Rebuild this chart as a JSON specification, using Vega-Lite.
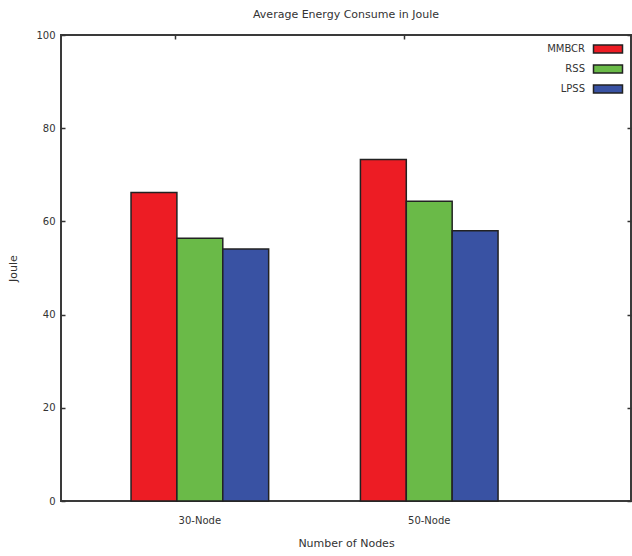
{
  "$schema": "https://vega.github.io/schema/vega-lite/v6.json",
  "width": 570,
  "height": 466,
  "autosize": "none",
  "padding": {"left": 61, "top": 35, "right": 1, "bottom": 55},
  "background": "white",
  "title": {"text": "Average Energy Consume in Joule", "fontSize": 11, "font": "DejaVu Sans", "fontWeight": "normal", "color": "#333", "anchor": "middle", "offset": 10},
  "config": {
    "view": {"stroke": "#3a3a3a", "strokeWidth": 2},
    "font": "DejaVu Sans",
    "axis": {"labelFont": "DejaVu Sans", "titleFont": "DejaVu Sans", "labelFontSize": 10, "titleFontSize": 11, "titleFontWeight": "normal", "labelColor": "#333", "titleColor": "#333", "domain": false, "grid": false, "tickColor": "#333", "tickWidth": 1.5}
  },
  "data": {"values": [
    {"nodes": "30-Node", "protocol": "MMBCR", "joule": 66.2},
    {"nodes": "30-Node", "protocol": "RSS", "joule": 56.4},
    {"nodes": "30-Node", "protocol": "LPSS", "joule": 54.1},
    {"nodes": "50-Node", "protocol": "MMBCR", "joule": 73.3},
    {"nodes": "50-Node", "protocol": "RSS", "joule": 64.3},
    {"nodes": "50-Node", "protocol": "LPSS", "joule": 58.0}
  ]},
  "layer": [
    {
      "mark": {"type": "bar", "stroke": "#222", "strokeWidth": 1.5},
      "encoding": {
        "x": {"field": "nodes", "type": "nominal", "sort": null,
          "scale": {"paddingInner": 0.4, "paddingOuter": 0.4424, "align": 0.345},
          "axis": {"title": "Number of Nodes", "labelAngle": 0, "bandPosition": 0.32, "tickSize": -4, "labelPadding": 18, "titlePadding": 12}},
        "xOffset": {"field": "protocol", "type": "nominal", "sort": ["MMBCR", "RSS", "LPSS"], "scale": {"paddingInner": 0, "paddingOuter": 0}},
        "y": {"field": "joule", "type": "quantitative", "scale": {"domain": [0, 100], "nice": false},
          "axis": {"title": "Joule", "values": [0, 20, 40, 60, 80, 100], "tickSize": -4, "labelPadding": 10, "titlePadding": 17}},
        "color": {"field": "protocol", "type": "nominal", "sort": ["MMBCR", "RSS", "LPSS"],
          "scale": {"domain": ["MMBCR", "RSS", "LPSS"], "range": ["#ed1c24", "#6aba48", "#3952a3"]},
          "legend": {"title": null, "orient": "none", "legendX": 541, "legendY": 8, "direction": "vertical",
            "symbolType": "M-2.9,-0.8H2.9V0.8H-2.9Z", "symbolSize": 100, "symbolStrokeColor": "#222", "symbolStrokeWidth": 1.5, "symbolOpacity": 1,
            "labelFontSize": 10, "labelColor": "#333", "rowPadding": 6,
            "encode": {"labels": {"update": {"x": {"value": -17}, "align": {"value": "right"}}}}}}
      }
    },
    {
      "mark": {"type": "bar", "opacity": 0},
      "encoding": {
        "x": {"field": "nodes", "type": "nominal", "sort": null,
          "axis": {"orient": "top", "title": null, "labels": false, "bandPosition": 0.32, "tickSize": -4}},
        "xOffset": {"field": "protocol", "type": "nominal", "sort": ["MMBCR", "RSS", "LPSS"]},
        "y": {"field": "joule", "type": "quantitative",
          "axis": {"orient": "right", "title": null, "labels": false, "values": [0, 20, 40, 60, 80, 100], "tickSize": -4}}
      }
    }
  ],
  "resolve": {"axis": {"x": "independent", "y": "independent"}}
}
